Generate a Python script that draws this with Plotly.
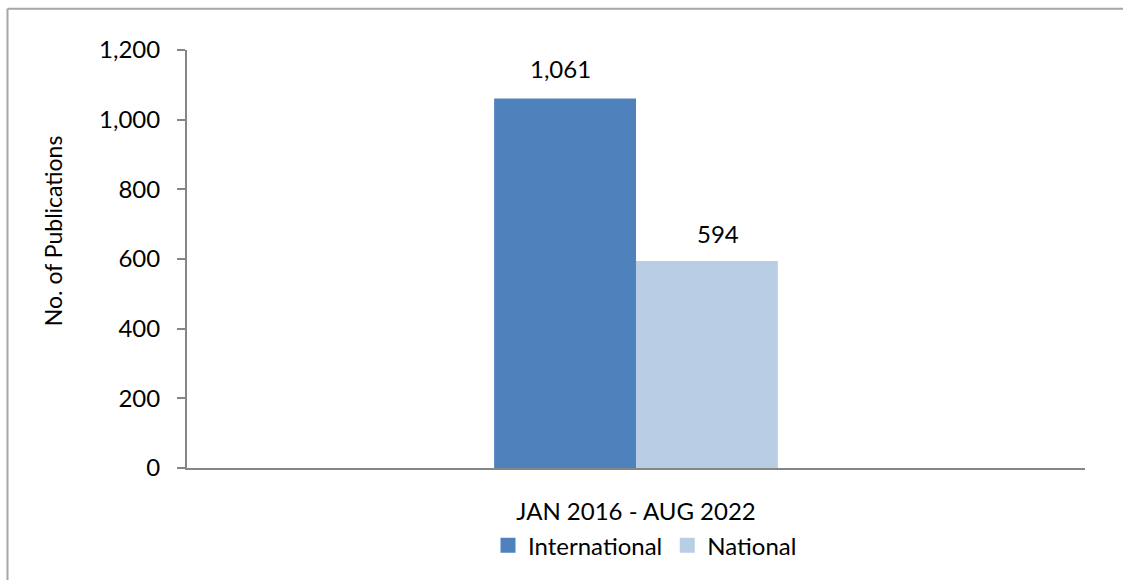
import plotly.graph_objects as go

categories = ["JAN 2016 - AUG 2022"]
series_names = ["International", "National"]
international = [1061]
national = [594]
colors = ["#4F81BD", "#B9CDE5"]
y_ticks = [0, 200, 400, 600, 800, 1000, 1200]
y_title = "No. of Publications"

W, H = 1123, 580
L, R, T, B = 187, 38, 50, 110
pw = W - L - R
ph = H - T - B

FONT = "Lato, Carlito, Calibri, sans-serif"
tick_font = dict(family=FONT, size=24, color="#000000")

fig = go.Figure()
for name, vals, col in zip(series_names, [international, national], colors):
    fig.add_trace(go.Bar(x=categories, y=vals, name=name, showlegend=False,
                         marker=dict(color=col, line=dict(width=0))))
# legend entries with larger square swatches
for name, col in zip(series_names, colors):
    fig.add_trace(go.Scatter(x=[None], y=[None], mode="markers", name=name,
                             marker=dict(symbol="square", size=15, color=col)))

# value labels
for vals, xs, ys in [(international, -76, 30), (national, 82, 28)]:
    for c, v in zip(categories, vals):
        fig.add_annotation(x=c, y=v, text=f"{v:,}", showarrow=False, xshift=xs, yshift=ys,
                           yanchor="middle", font=tick_font)

# y-axis title
fig.add_annotation(xref="paper", yref="paper", x=(53 - L) / pw, y=(T + ph - 232) / ph,
                   text=y_title, textangle=-90, showarrow=False, xanchor="center", yanchor="middle",
                   font=dict(family=FONT, size=23, color="#000000"))

# outer chart border: only top and left edges are inside the picture
bx0 = (7.5 - L) / pw
by1 = (T - 8.5 + ph) / ph
border = dict(color="#A6A6A6", width=2)
fig.add_shape(type="line", xref="paper", yref="paper", x0=bx0, x1=(W + 5 - L) / pw, y0=by1, y1=by1,
              line=border, layer="below")
fig.add_shape(type="line", xref="paper", yref="paper", x0=bx0, x1=bx0, y0=by1, y1=-(H + 5 - T - ph) / ph,
              line=border, layer="below")

fig.update_layout(
    width=W, height=H,
    margin=dict(l=L, r=R, t=T, b=B, pad=0),
    paper_bgcolor="white", plot_bgcolor="white",
    barmode="group", bargap=0.684, bargroupgap=0,
    showlegend=True,
    legend=dict(orientation="h", x=(645 - L) / pw, xanchor="center", y=(T + ph - 548) / ph, yanchor="middle",
                font=tick_font, itemwidth=30, tracegroupgap=0, bgcolor="rgba(0,0,0,0)"),
    font=tick_font,
)
fig.update_xaxes(range=[-0.5, 0.5], showline=True, linecolor="#868686", linewidth=2, ticks="",
                 showgrid=False, tickfont=tick_font, ticklabelstandoff=21, zeroline=False)
fig.update_yaxes(range=[0, 1200], tickvals=y_ticks, tickformat=",", showline=True, linecolor="#868686",
                 linewidth=2, ticks="outside", ticklen=8, tickcolor="#868686", tickwidth=2,
                 showgrid=False, zeroline=False, tickfont=tick_font, ticklabelstandoff=12)

fig.write_html("out.html", config={"displayModeBar": False},
               post_script="document.body.style.margin='0';document.body.style.overflow='hidden';")
